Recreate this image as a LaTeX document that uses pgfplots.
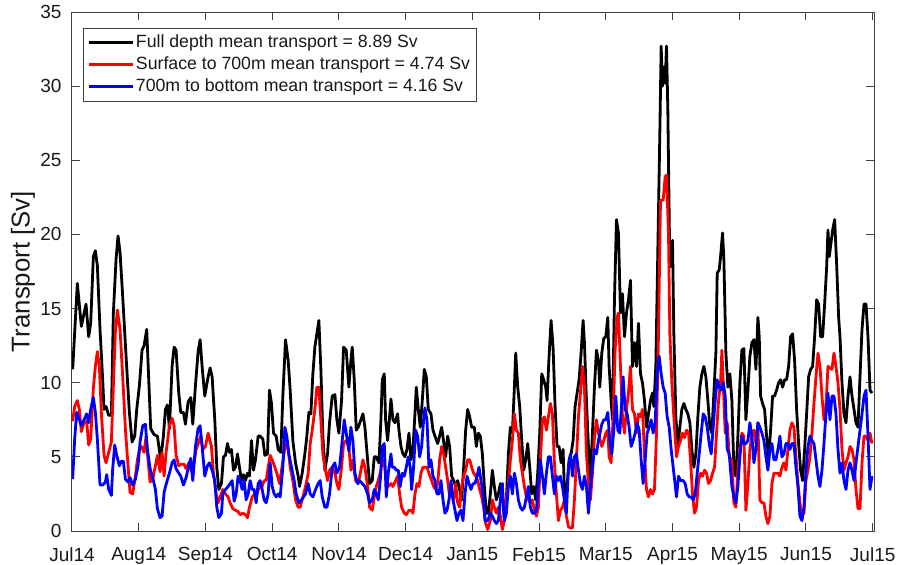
\documentclass[border=0pt]{standalone}
\usepackage{fontspec}
\setmainfont{Liberation Sans}
\usepackage{pgfplots}
\pgfplotsset{compat=1.18}
\begin{document}
\begin{tikzpicture}
\begin{axis}[
  at={(0,0)}, anchor=south west,
  scale only axis,
  width=401pt, height=259.5pt,
  xmin=0, xmax=12.02, ymin=0, ymax=35,
  xtick={0,...,12},
  xticklabels={Jul14,Aug14,Sep14,Oct14,Nov14,Dec14,Jan15,Feb15,Mar15,Apr15,May15,Jun15,Jul15},
  ytick={0,5,...,35},
  tick align=inside,
  major tick length=4pt,
  tick style={black!75, line width=0.5pt},
  axis line style={black!75, line width=0.5pt},
  ticklabel style={font=\fontsize{9.5}{11}\selectfont, text=black!90},
  /pgf/number format/assume math mode=true,
  yticklabel style={xshift=-1.7pt},
  xticklabel style={yshift=-4.6pt},
  ylabel={Transport [Sv]},
  ylabel style={at={(axis description cs:-0.061,0.5)}, anchor=center, font=\fontsize{12.9}{14}\selectfont, text=black!90},
  legend style={at={(axis description cs:0.0133,0.970)}, anchor=north west,
    draw=black!75, line width=0.5pt, fill=white,
    font=\fontsize{8.85}{10}\selectfont, text=black!90,
    inner xsep=2.3pt, inner ysep=1.85pt,
    nodes={inner xsep=1pt, inner ysep=1.25pt, text height=6.6pt, text depth=1.9pt},
    /tikz/every even column/.append style={column sep=0.65pt}},
  legend cell align=left,
  legend image code/.code={\draw[#1, line width=1.4pt] (0pt,0pt) -- (21.7pt,0pt);},
  every axis plot/.append style={line width=1.4pt, line join=round},
]
% Full depth
\addplot[black] coordinates {
(0.01,10.9)(0.08,16.7)(0.14,13.8)(0.21,15.3)(0.25,13.1)(0.28,14.0)(0.32,18.5)(0.35,18.9)(0.38,17.9)(0.42,13.6)(0.46,10.2)(0.48,8.2)(0.51,8.4)(0.55,7.8)(0.59,7.8)(0.62,14.7)(0.66,18.3)(0.69,19.9)(0.72,18.8)(0.76,15.8)(0.81,11.8)(0.86,8.0)(0.90,6.0)(0.94,6.4)(0.97,8.2)(1.01,9.8)(1.05,12.2)(1.08,12.5)(1.12,13.6)(1.15,10.2)(1.18,6.9)(1.23,6.5)(1.28,6.4)(1.33,4.8)(1.37,6.4)(1.40,8.2)(1.43,8.5)(1.46,6.9)(1.50,11.1)(1.53,12.4)(1.56,12.2)(1.60,9.3)(1.63,8.0)(1.67,8.0)(1.70,7.2)(1.74,8.7)(1.78,9.0)(1.81,7.2)(1.85,9.8)(1.89,12.1)(1.92,12.9)(1.95,11.1)(1.99,9.1)
(2.04,10.4)(2.07,11.0)(2.10,10.4)(2.14,7.5)(2.17,4.3)(2.20,2.8)(2.24,3.2)(2.27,5.0)(2.30,5.1)(2.33,5.9)(2.36,5.3)(2.39,5.5)(2.42,4.1)(2.45,4.3)(2.48,5.2)(2.51,4.3)(2.54,3.4)(2.57,3.8)(2.60,3.4)(2.63,3.9)(2.66,3.7)(2.69,6.1)(2.72,4.1)(2.75,4.8)(2.79,6.4)(2.82,6.4)(2.86,6.2)(2.89,5.1)(2.93,5.2)(2.96,9.5)(2.99,8.6)(3.02,6.6)(3.06,6.4)(3.09,5.5)(3.13,5.3)(3.16,9.1)(3.20,12.9)(3.24,11.5)(3.27,9.5)(3.31,6.1)(3.35,4.6)(3.39,3.7)(3.41,3.0)(3.45,3.9)(3.49,5.2)(3.52,6.4)(3.55,8.0)(3.58,7.9)(3.61,10.6)(3.64,12.4)(3.67,13.3)(3.70,14.2)(3.73,10.9)(3.76,6.4)(3.79,4.1)(3.83,5.2)(3.86,7.3)(3.90,9.1)(3.94,9.2)(3.97,7.5)(4.00,6.6)(4.04,8.8)(4.07,12.4)(4.11,12.2)(4.15,9.7)
(4.18,11.5)(4.20,12.4)(4.23,10.2)(4.26,6.8)(4.29,7.0)(4.33,7.5)(4.36,7.9)(4.39,7.0)(4.43,4.8)(4.46,3.2)(4.50,3.4)(4.53,5.0)(4.56,5.0)(4.60,4.6)(4.63,7.5)(4.65,10.2)(4.68,10.6)(4.70,7.5)(4.73,6.1)(4.76,7.7)(4.78,8.9)(4.81,7.5)(4.84,7.3)(4.88,7.9)(4.90,6.8)(4.93,5.7)(4.96,5.2)(4.99,5.0)(5.02,5.5)(5.05,6.6)(5.08,4.8)(5.11,5.5)(5.14,7.9)(5.16,9.7)(5.19,8.2)(5.22,7.0)(5.25,8.8)(5.28,10.9)(5.31,10.4)(5.34,8.2)(5.38,7.9)(5.41,6.8)(5.44,6.4)(5.48,5.9)(5.51,6.4)(5.54,7.0)(5.58,5.7)(5.60,5.0)(5.63,6.4)(5.66,5.7)(5.69,3.7)(5.72,3.4)(5.75,3.0)(5.78,3.4)(5.81,2.8)(5.84,2.1)(5.87,4.3)(5.90,6.8)(5.93,8.2)(5.96,7.7)(5.99,7.0)(6.03,7.0)(6.06,5.7)(6.09,6.6)(6.12,6.4)(6.15,5.2)(6.18,3.0)(6.21,1.2)(6.24,1.2)
(6.27,2.5)(6.30,4.1)(6.33,3.0)(6.36,2.1)(6.39,2.5)(6.42,3.2)(6.45,2.5)(6.48,0.7)(6.51,2.1)(6.54,5.2)(6.57,7.0)(6.60,6.6)(6.63,9.7)(6.65,12.0)(6.68,9.7)(6.71,8.4)(6.74,6.1)(6.77,4.1)(6.80,4.8)(6.83,5.9)(6.86,4.3)(6.89,2.5)(6.92,3.0)(6.95,2.1)(6.98,3.9)(7.01,6.6)(7.04,10.6)(7.07,10.2)(7.10,9.7)(7.12,8.8)(7.15,11.8)(7.18,14.2)(7.21,12.4)(7.24,8.4)(7.27,5.7)(7.30,5.7)(7.33,4.6)(7.36,5.5)(7.39,1.4)(7.42,3.0)(7.45,4.8)(7.48,5.2)(7.51,6.1)(7.54,8.4)(7.57,9.3)(7.60,10.2)(7.63,12.0)(7.66,14.2)(7.68,12.7)(7.71,8.8)(7.74,5.7)(7.77,3.4)(7.80,6.6)(7.83,9.7)(7.86,12.2)(7.89,11.5)
(7.91,9.7)(7.94,12.0)(7.97,13.0)(8.00,13.1)(8.03,14.4)(8.05,11.1)(8.08,8.8)(8.10,7.5)(8.13,15.6)(8.16,21.0)(8.19,20.1)(8.22,14.7)(8.25,16.0)(8.28,13.1)(8.31,14.7)(8.34,15.6)(8.37,16.9)(8.40,11.1)(8.43,12.7)(8.46,11.1)(8.49,14.0)(8.52,10.6)(8.55,10.0)(8.58,8.8)(8.61,7.0)(8.64,7.9)(8.67,8.8)(8.70,9.3)(8.72,8.4)(8.75,11.1)(8.78,18.9)(8.81,26.8)(8.83,32.7)(8.85,30.0)(8.87,31.3)(8.89,30.2)(8.91,32.7)(8.93,28.4)(8.96,17.8)(8.98,18.7)(9.00,19.6)(9.02,13.3)(9.05,7.7)(9.08,5.7)(9.11,7.0)(9.14,8.2)(9.17,8.6)(9.20,8.2)(9.23,7.9)(9.26,7.3)(9.29,5.5)(9.32,4.3)(9.35,5.2)(9.38,7.7)(9.41,9.7)(9.44,10.6)(9.47,11.1)(9.50,10.4)(9.53,8.8)(9.56,7.0)(9.59,6.6)(9.62,9.3)(9.65,12.0)(9.67,17.4)(9.70,17.6)(9.72,18.5)(9.75,20.1)(9.77,18.3)(9.80,12.0)(9.83,9.7)(9.86,10.6)
(9.89,8.8)(9.92,4.1)(9.95,3.7)(9.98,6.4)(10.01,10.0)(10.04,12.2)(10.07,12.3)(10.10,7.5)(10.13,9.5)(10.16,11.8)(10.19,12.7)(10.22,12.9)(10.25,10.9)(10.28,14.4)(10.30,13.1)(10.32,9.1)(10.35,8.6)(10.38,8.2)(10.41,6.4)(10.44,4.8)(10.47,6.8)(10.50,9.1)(10.53,9.1)(10.56,9.5)(10.59,10.0)(10.62,10.2)(10.65,9.7)(10.68,10.2)(10.71,10.2)(10.74,11.1)(10.77,13.1)(10.80,13.3)(10.83,11.5)(10.86,8.2)(10.89,5.9)(10.92,4.1)(10.95,3.4)(10.98,5.5)(11.01,7.9)(11.04,10.4)(11.07,10.9)(11.10,11.1)(11.13,13.1)(11.16,15.6)(11.19,15.3)(11.22,13.1)(11.25,13.1)(11.28,15.3)(11.31,17.8)(11.33,20.3)(11.35,18.5)(11.38,19.6)(11.40,20.3)(11.43,21.0)(11.46,18.0)(11.49,14.4)(11.51,13.1)(11.54,10.0)(11.57,7.9)(11.60,7.3)(11.63,9.1)(11.66,10.4)(11.69,9.1)(11.72,8.2)(11.75,7.3)(11.78,7.0)(11.81,10.4)(11.84,13.6)(11.87,15.3)(11.90,15.3)(11.93,13.1)(11.96,9.5)(11.99,9.3)
};
\addlegendentry{Full depth mean transport = 8.89 Sv}
% Surface to 700 m
\addplot[red] coordinates {
(0.01,7.4)(0.04,8.4)(0.08,8.8)(0.11,8.2)(0.14,6.7)(0.18,7.3)(0.22,7.4)(0.25,5.8)(0.28,6.2)(0.32,9.6)(0.35,11.1)(0.38,12.1)(0.41,11.1)(0.44,8.0)(0.48,5.1)(0.51,4.6)(0.55,5.3)(0.59,6.0)(0.62,9.8)(0.65,13.4)(0.68,14.9)(0.72,13.6)(0.76,10.4)(0.80,6.9)(0.84,4.4)(0.87,2.6)(0.91,2.5)(0.95,3.7)(0.98,4.8)(1.01,5.5)(1.04,5.7)(1.08,5.3)(1.11,6.4)(1.13,5.3)(1.17,3.3)(1.21,3.5)(1.25,4.4)(1.28,5.1)(1.32,4.0)(1.35,5.3)(1.38,3.7)(1.41,5.3)(1.46,7.1)(1.50,7.6)(1.53,7.1)(1.56,5.1)(1.60,4.4)(1.64,4.5)(1.68,4.5)(1.71,4.2)(1.75,4.6)(1.79,4.0)(1.83,4.6)(1.86,5.5)(1.90,6.0)(1.93,6.4)(1.96,5.5)(2.00,5.7)(2.04,6.6)
(2.09,5.7)(2.12,3.9)(2.16,2.5)(2.19,1.9)(2.22,2.3)(2.26,2.8)(2.30,2.5)(2.34,2.3)(2.37,1.9)(2.41,1.5)(2.45,1.4)(2.49,1.3)(2.52,1.1)(2.56,1.2)(2.60,1.1)(2.63,0.9)(2.66,1.6)(2.70,2.3)(2.74,2.5)(2.77,2.5)(2.81,3.0)(2.84,2.9)(2.88,3.4)(2.91,3.4)(2.94,4.3)(2.97,5.1)(3.00,4.8)(3.04,4.3)(3.07,3.9)(3.11,3.2)(3.14,4.1)(3.17,5.0)(3.20,5.9)(3.24,5.5)(3.27,4.3)(3.31,3.4)(3.35,2.1)(3.39,1.6)(3.42,1.6)(3.46,2.3)(3.50,3.0)(3.54,3.9)(3.57,5.9)(3.60,6.8)(3.64,8.2)(3.67,9.7)(3.70,9.7)(3.73,7.5)(3.76,5.2)(3.79,4.3)(3.83,3.4)(3.86,4.1)(3.90,4.3)(3.94,3.9)(3.97,3.2)(4.00,2.8)(4.04,4.3)(4.07,5.9)(4.11,6.1)(4.15,5.6)
(4.18,4.1)(4.21,4.8)(4.25,3.4)(4.29,3.2)(4.33,4.1)(4.36,4.8)(4.39,4.3)(4.43,3.0)(4.46,1.6)(4.50,1.4)(4.53,2.3)(4.56,3.0)(4.59,3.4)(4.63,4.1)(4.65,4.8)(4.68,4.6)(4.71,3.4)(4.74,3.0)(4.78,3.2)(4.81,3.0)(4.85,3.4)(4.88,3.7)(4.91,2.5)(4.94,1.6)(4.98,1.2)(5.01,1.1)(5.05,1.4)(5.08,1.4)(5.11,1.2)(5.14,2.5)(5.17,3.2)(5.20,3.0)(5.23,3.9)(5.26,4.3)(5.29,4.3)(5.32,4.3)(5.35,3.9)(5.39,3.4)(5.42,3.0)(5.45,2.8)(5.48,3.2)(5.51,4.8)(5.54,5.7)(5.57,5.2)(5.60,4.3)(5.63,3.4)(5.66,2.3)(5.69,2.5)(5.72,2.1)(5.75,3.2)(5.78,1.9)(5.81,1.6)(5.84,3.0)(5.87,3.7)(5.90,4.1)(5.93,4.8)(5.96,4.8)(5.99,4.3)(6.02,3.9)(6.05,3.7)(6.08,3.4)(6.11,2.8)(6.14,2.3)(6.17,1.6)(6.20,0.5)(6.23,0.1)
(6.27,0.7)(6.30,2.1)(6.33,1.6)(6.36,1.2)(6.39,1.6)(6.42,1.0)(6.45,0.1)(6.48,0.7)(6.51,2.1)(6.54,3.2)(6.57,4.8)(6.60,6.1)(6.63,7.9)(6.66,6.8)(6.69,6.6)(6.72,4.8)(6.75,3.9)(6.78,3.0)(6.81,2.3)(6.84,2.1)(6.87,1.9)(6.90,2.1)(6.93,1.4)(6.96,1.0)(6.99,1.6)(7.02,4.8)(7.05,7.5)(7.08,7.7)(7.11,6.8)(7.14,7.7)(7.17,8.6)(7.20,7.9)(7.23,4.6)(7.26,2.5)(7.29,0.7)(7.32,1.4)(7.35,1.6)(7.38,2.1)(7.41,1.0)(7.44,0.3)(7.47,0.2)(7.50,0.2)(7.53,2.1)(7.56,4.8)(7.59,7.7)(7.62,9.3)(7.65,11.1)(7.68,9.7)(7.71,5.2)(7.74,3.2)(7.77,2.1)(7.80,3.9)(7.83,6.3)(7.86,7.5)(7.89,6.6)
(7.94,5.7)(7.97,6.1)(8.00,6.6)(8.03,6.8)(8.05,5.0)(8.08,4.6)(8.11,7.7)(8.14,12.2)(8.17,14.4)(8.19,14.7)(8.22,11.1)(8.25,7.7)(8.28,6.6)(8.31,8.2)(8.34,9.3)(8.37,11.1)(8.40,8.2)(8.43,7.9)(8.46,6.6)(8.49,7.9)(8.52,7.7)(8.55,8.2)(8.58,5.2)(8.61,2.8)(8.64,2.3)(8.67,2.8)(8.70,2.5)(8.73,2.8)(8.76,6.6)(8.79,13.3)(8.82,22.3)(8.86,22.3)(8.89,23.9)(8.91,24.0)(8.94,20.1)(8.96,13.3)(8.99,10.0)(9.02,7.7)(9.06,5.0)(9.09,5.7)(9.12,6.1)(9.15,6.6)(9.18,6.3)(9.21,6.8)(9.24,6.6)(9.27,4.8)(9.30,2.5)(9.33,1.2)(9.36,1.6)(9.39,3.4)(9.42,3.9)(9.45,3.7)(9.48,4.1)(9.51,3.9)(9.54,3.2)(9.57,3.4)(9.60,3.9)(9.63,4.3)(9.66,6.6)(9.69,8.8)(9.72,10.0)(9.74,12.2)(9.76,10.0)(9.79,6.6)(9.82,7.3)(9.85,5.0)
(9.89,4.8)(9.92,1.9)(9.95,1.6)(9.98,4.1)(10.01,5.5)(10.04,6.6)(10.07,6.4)(10.10,1.4)(10.13,3.2)(10.16,5.5)(10.19,6.6)(10.22,6.8)(10.25,5.9)(10.28,7.3)(10.31,2.1)(10.34,1.9)(10.37,1.9)(10.40,1.0)(10.43,0.5)(10.46,1.0)(10.49,3.2)(10.52,3.9)(10.55,3.9)(10.58,3.9)(10.61,3.7)(10.64,4.3)(10.67,4.6)(10.70,4.1)(10.73,5.5)(10.76,6.8)(10.79,7.3)(10.82,7.0)(10.85,5.0)(10.88,3.2)(10.91,1.9)(10.94,1.0)(10.97,1.2)(11.00,3.4)(11.03,4.1)(11.06,5.0)(11.09,6.6)(11.12,8.6)(11.15,10.4)(11.18,12.0)(11.21,11.1)(11.24,9.1)(11.27,7.5)(11.30,8.4)(11.33,11.1)(11.36,11.0)(11.39,10.9)(11.42,12.0)(11.45,11.1)(11.48,10.0)(11.51,8.2)(11.54,5.5)(11.57,4.1)(11.60,4.6)(11.63,5.0)(11.66,5.7)(11.69,5.5)(11.72,4.8)(11.75,2.8)(11.78,1.5)(11.81,1.5)(11.84,4.6)(11.87,6.4)(11.90,6.4)(11.93,6.1)(11.96,6.6)(11.99,5.9)
};
\addlegendentry{Surface to 700m mean transport = 4.74 Sv}
% 700 m to bottom
\addplot[blue] coordinates {
(0.01,3.5)(0.04,6.2)(0.07,8.0)(0.11,7.5)(0.14,7.1)(0.18,7.5)(0.22,7.9)(0.25,7.3)(0.28,8.2)(0.32,9.0)(0.35,8.0)(0.38,6.2)(0.42,3.1)(0.46,3.1)(0.50,3.3)(0.52,3.8)(0.55,2.8)(0.59,2.4)(0.61,4.2)(0.64,5.8)(0.67,5.1)(0.71,4.4)(0.74,4.7)(0.77,4.7)(0.80,3.5)(0.84,3.3)(0.87,3.6)(0.91,3.1)(0.95,3.5)(0.99,4.4)(1.02,6.0)(1.06,7.1)(1.10,7.2)(1.13,5.5)(1.17,4.2)(1.21,3.6)(1.25,2.8)(1.28,1.5)(1.32,0.9)(1.35,1.0)(1.38,2.6)(1.42,3.3)(1.46,3.9)(1.50,4.6)(1.53,4.8)(1.56,4.2)(1.60,3.9)(1.63,3.7)(1.67,3.1)(1.71,3.6)(1.75,4.4)(1.78,4.9)(1.81,3.4)(1.85,5.7)(1.89,6.9)(1.92,7.1)(1.95,5.7)(1.99,3.7)(2.03,4.4)
(2.06,4.6)(2.10,4.1)(2.14,3.4)(2.17,1.6)(2.20,0.9)(2.24,1.2)(2.26,2.5)(2.30,2.8)(2.34,3.0)(2.37,3.2)(2.40,3.4)(2.43,2.0)(2.46,2.5)(2.49,3.7)(2.52,3.4)(2.55,2.8)(2.58,3.4)(2.61,2.1)(2.64,2.5)(2.67,3.4)(2.70,2.8)(2.73,2.8)(2.76,1.9)(2.79,3.2)(2.82,3.4)(2.85,2.8)(2.88,2.1)(2.91,1.9)(2.94,2.5)(2.97,4.6)(3.00,3.0)(3.03,2.5)(3.06,2.3)(3.09,2.5)(3.12,2.3)(3.16,4.3)(3.19,7.0)(3.22,6.4)(3.25,5.2)(3.29,4.3)(3.33,3.4)(3.36,2.5)(3.40,1.9)(3.44,2.1)(3.47,2.3)(3.50,2.5)(3.54,3.2)(3.57,2.5)(3.61,2.3)(3.65,2.8)(3.69,3.2)(3.72,3.4)(3.75,2.3)(3.79,1.6)(3.82,1.6)(3.86,2.5)(3.90,4.3)(3.94,4.6)(3.97,3.9)(4.01,4.3)(4.05,6.1)(4.08,7.5)(4.11,6.6)(4.15,5.4)
(4.18,7.0)(4.21,6.1)(4.24,3.9)(4.28,3.2)(4.31,3.4)(4.35,3.2)(4.39,3.0)(4.43,2.5)(4.46,1.9)(4.50,2.1)(4.53,2.8)(4.56,2.5)(4.59,2.1)(4.62,3.4)(4.65,5.7)(4.68,5.9)(4.71,2.3)(4.74,3.9)(4.78,5.2)(4.80,4.3)(4.83,4.3)(4.86,4.1)(4.89,4.1)(4.92,3.0)(4.95,3.9)(4.98,3.7)(5.01,4.3)(5.04,5.0)(5.07,4.3)(5.09,2.8)(5.12,4.3)(5.15,6.8)(5.18,6.4)(5.21,5.0)(5.24,5.7)(5.27,7.5)(5.29,8.3)(5.32,7.5)(5.35,4.3)(5.38,4.8)(5.41,3.7)(5.44,3.4)(5.47,2.5)(5.50,2.5)(5.53,3.4)(5.56,2.1)(5.59,1.2)(5.62,1.4)(5.65,2.1)(5.68,3.4)(5.71,2.1)(5.74,1.4)(5.77,0.7)(5.80,1.2)(5.83,1.4)(5.86,0.7)(5.89,2.5)(5.92,3.7)(5.95,3.2)(5.98,2.8)(6.01,3.2)(6.04,3.2)(6.07,3.7)(6.10,4.3)(6.13,3.4)(6.16,2.5)(6.19,0.7)(6.23,0.7)
(6.27,1.2)(6.30,1.0)(6.33,0.7)(6.36,0.5)(6.39,0.7)(6.42,2.1)(6.45,3.2)(6.48,0.7)(6.51,1.2)(6.54,3.0)(6.57,3.7)(6.60,2.5)(6.63,3.9)(6.66,3.2)(6.69,2.1)(6.72,1.6)(6.75,1.4)(6.78,1.6)(6.81,2.3)(6.84,3.0)(6.87,1.6)(6.90,1.2)(6.93,1.2)(6.96,1.4)(6.99,3.2)(7.02,4.8)(7.05,3.7)(7.08,2.5)(7.11,3.9)(7.14,5.0)(7.17,5.0)(7.20,3.7)(7.23,2.5)(7.26,3.7)(7.29,3.4)(7.32,3.7)(7.35,3.0)(7.38,2.1)(7.41,1.2)(7.44,4.3)(7.47,5.2)(7.50,3.7)(7.53,5.0)(7.56,5.2)(7.59,4.1)(7.62,3.2)(7.65,2.8)(7.68,3.7)(7.71,3.0)(7.74,1.2)(7.77,3.0)(7.80,4.3)(7.83,5.5)(7.86,5.2)(7.89,6.1)
(7.94,7.2)(7.97,7.5)(8.00,7.5)(8.03,8.0)(8.06,6.1)(8.09,5.2)(8.12,6.8)(8.15,9.1)(8.18,6.8)(8.21,6.6)(8.24,8.8)(8.26,10.4)(8.29,8.2)(8.32,7.9)(8.35,7.0)(8.38,5.7)(8.41,6.1)(8.44,6.6)(8.47,7.3)(8.50,6.8)(8.53,4.8)(8.56,3.2)(8.59,4.8)(8.62,6.6)(8.65,7.0)(8.68,7.5)(8.71,6.6)(8.74,7.3)(8.77,10.6)(8.80,11.8)(8.83,10.6)(8.86,9.7)(8.89,9.3)(8.92,7.7)(8.95,7.0)(8.98,5.5)(9.02,3.9)(9.06,2.3)(9.09,3.7)(9.12,3.4)(9.16,3.4)(9.19,3.2)(9.22,2.5)(9.25,2.3)(9.28,2.3)(9.31,2.1)(9.34,2.5)(9.37,3.9)(9.40,5.2)(9.43,6.6)(9.46,7.9)(9.49,7.7)(9.52,7.0)(9.55,5.9)(9.58,5.2)(9.61,7.0)(9.64,8.8)(9.67,10.2)(9.70,9.7)(9.73,9.5)(9.76,10.0)(9.79,9.1)(9.82,5.5)(9.85,5.2)
(9.89,3.0)(9.92,2.3)(9.95,1.9)(9.98,3.0)(10.01,5.0)(10.04,6.4)(10.07,5.9)(10.10,5.9)(10.13,6.1)(10.16,7.3)(10.19,6.4)(10.22,4.6)(10.25,5.5)(10.28,7.3)(10.31,7.0)(10.34,6.6)(10.37,6.1)(10.40,5.0)(10.43,4.1)(10.46,5.5)(10.49,5.9)(10.52,4.8)(10.55,4.8)(10.58,5.5)(10.61,6.4)(10.64,5.0)(10.67,5.2)(10.70,5.9)(10.73,5.9)(10.76,5.5)(10.79,5.9)(10.82,5.9)(10.85,4.3)(10.88,3.0)(10.91,1.0)(10.94,0.7)(10.97,1.6)(11.00,4.1)(11.03,5.7)(11.06,6.4)(11.09,6.1)(11.12,5.9)(11.15,4.8)(11.18,3.7)(11.21,3.0)(11.24,4.1)(11.27,5.9)(11.30,7.9)(11.33,9.3)(11.36,7.5)(11.39,9.1)(11.42,9.1)(11.45,7.9)(11.48,5.5)(11.51,3.9)(11.54,4.6)(11.57,3.4)(11.60,2.8)(11.63,4.1)(11.66,4.6)(11.69,4.1)(11.72,3.4)(11.75,4.6)(11.78,5.7)(11.81,6.8)(11.84,7.9)(11.87,9.1)(11.90,9.5)(11.93,6.4)(11.96,2.8)(11.99,3.7)
};
\addlegendentry{700m to bottom mean transport = 4.16 Sv}
\end{axis}
\pgfresetboundingbox
\path[use as bounding box] (-36pt,-16.5pt) rectangle (413pt,265.5pt);
\end{tikzpicture}
\end{document}
